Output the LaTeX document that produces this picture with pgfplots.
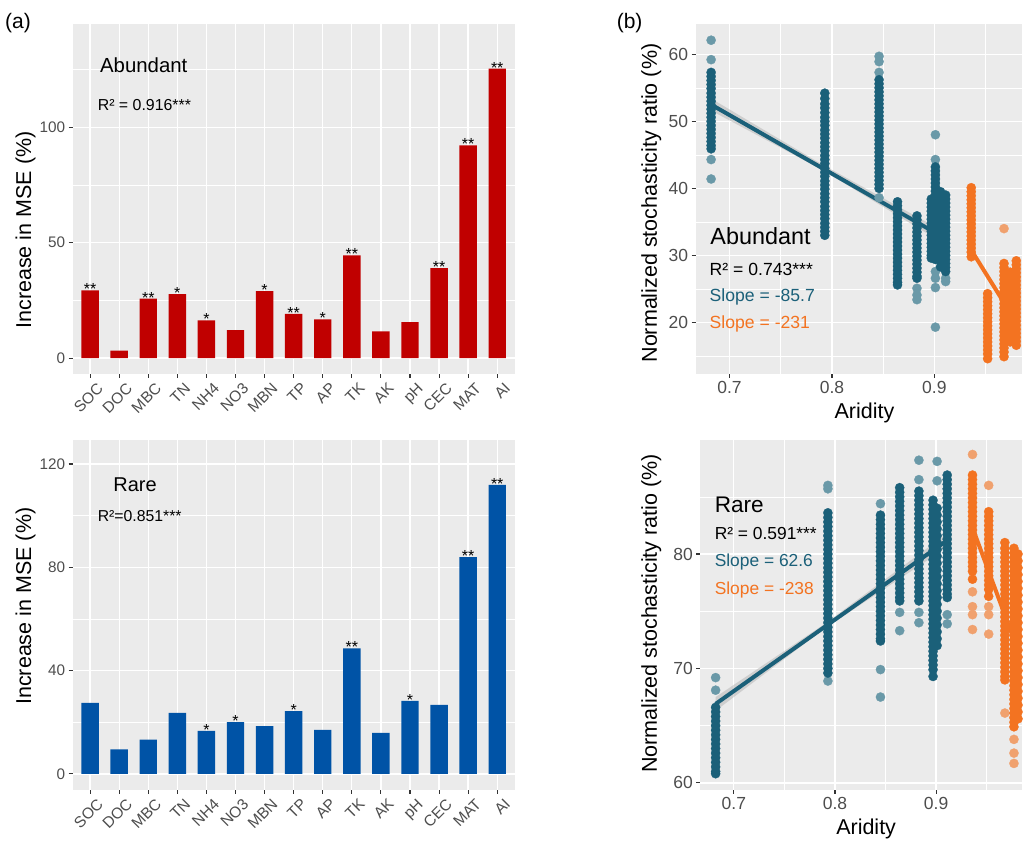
\documentclass[border=0pt]{standalone}
\usepackage{fontspec}
\setmainfont{Liberation Sans}
\usepackage{pgfplots}
\pgfplotsset{compat=1.18}
\definecolor{panelbg}{HTML}{EBEBEB}
\definecolor{tickgray}{HTML}{4D4D4D}
\definecolor{tickdark}{HTML}{333333}
\definecolor{barred}{HTML}{C00000}
\definecolor{barblue}{HTML}{0053A6}
\definecolor{myteal}{HTML}{1B6079}
\definecolor{lteal}{HTML}{6A99A8}
\definecolor{myorange}{HTML}{F37321}
\definecolor{lorange}{HTML}{F0A16E}
\pgfplotsset{
 gg/.style={
   scale only axis,
   axis background/.style={fill=panelbg},
   axis line style={draw=none},
   grid=both,
   major grid style={white, line width=1.3pt},
   minor grid style={white, line width=0.6pt},
   tick align=outside,
   major tick length=4pt,
   minor tick length=0pt,
   tick style={tickdark, line width=1.1pt},
   xtick pos=bottom, ytick pos=left,
   tick label style={text=tickgray},
   /pgf/number format/assume math mode=true,
   label style={font=\fontsize{21.5}{24}\selectfont},
   anchor=north west,
 },
 barax/.style={gg,
   width=442.3pt, height=350pt,
   xmin=-0.6, xmax=14.6,
   xtick={0,...,14},
   xticklabels={SOC,DOC,MBC,TN,NH4,NO3,MBN,TP,AP,TK,AK,pH,CEC,MAT,AI},
   xticklabel style={rotate=45, anchor=north east, xshift=5pt, yshift=-4pt, font=\fontsize{15.5}{15}\selectfont},
   yticklabel style={font=\fontsize{15.3}{15}\selectfont},
   ylabel={Increase in MSE (\%)},
 },
 stars/.style={only marks, mark=none, point meta=explicit symbolic, nodes near coords,
   every node near coord/.style={anchor=base, inner sep=0pt, yshift=-4.5pt, font=\fontsize{16}{16}\selectfont, text=black}},
 scax/.style={gg,
   xtick={0.7,0.8,0.9}, xticklabels={0.7,0.8,0.9}, minor xtick={0.75,0.85,0.95},
   tick label style={font=\fontsize{17.5}{18}\selectfont},
   xlabel={Aridity}, ylabel={Normalized stochasticity ratio (\%)},
 },
 pts/.style={only marks, color=#1, mark=*, mark size=4.6pt, mark options={solid, fill=#1, draw=#1, line width=0.3pt}},
 tpts/.style={pts=myteal},
 ltpts/.style={pts=lteal},
 opts/.style={pts=myorange},
 lopts/.style={pts=lorange},
}
\begin{document}
\begin{tikzpicture}
\path (0,0) rectangle (1023pt,-842pt);
% ---------------- (a) top: Abundant
\begin{axis}[barax, at={(72.7pt,-24pt)},
  ymin=-6.8, ymax=144.7, ytick={0,50,100}, minor ytick={25,75,125},
  ylabel style={at={(axis description cs:-0.1067,0.411)}, anchor=center}]
\addplot[ybar, bar width=0.6, fill=barred, draw=none] coordinates {
(0,29.3) (1,3.2) (2,25.7) (3,27.7) (4,16.3) (5,12.1) (6,29.0) (7,19.1)
(8,16.8) (9,44.5) (10,11.6) (11,15.6) (12,39.0) (13,92.1) (14,125.4)};
\addplot[stars] coordinates {
(0,29.3) [**] (2,25.7) [**] (3,27.7) [*] (4,16.3) [*] (6,29.0) [*] (7,19.1) [**]
(8,16.8) [*] (9,44.5) [**] (12,39.0) [**] (13,92.1) [**] (14,125.4) [**]};
\node[anchor=base west, inner sep=0pt, font=\fontsize{20.4}{22}\selectfont] at (rel axis cs:0.0617,0.861) {Abundant};
\node[anchor=base west, inner sep=0pt, font=\fontsize{15.9}{17}\selectfont] at (rel axis cs:0.0565,0.754) {R² = 0.916***};
\end{axis}
% ---------------- (a) bottom: Rare
\begin{axis}[barax, at={(72.7pt,-440pt)},
  ymin=-6.06, ymax=129.4, ytick={0,40,80,120}, minor ytick={20,60,100},
  ylabel style={at={(axis description cs:-0.1067,0.524)}, anchor=center}]
\addplot[ybar, bar width=0.6, fill=barblue, draw=none] coordinates {
(0,27.5) (1,9.5) (2,13.3) (3,23.6) (4,16.6) (5,20.0) (6,18.5) (7,24.3)
(8,17.0) (9,48.6) (10,15.9) (11,28.3) (12,26.7) (13,83.9) (14,111.9)};
\addplot[stars] coordinates {
(4,16.6) [*] (5,20.0) [*] (7,24.3) [*] (9,48.6) [**] (11,28.3) [*] (13,83.9) [**] (14,111.9) [**]};
\node[anchor=base west, inner sep=0pt, font=\fontsize{20}{22}\selectfont] at (rel axis cs:0.0918,0.852) {Rare};
\node[anchor=base west, inner sep=0pt, font=\fontsize{15.8}{17}\selectfont] at (rel axis cs:0.0565,0.767) {R²=0.851***};
\end{axis}
% ---------------- (b) top: Abundant scatter
\begin{axis}[scax, at={(696pt,-24pt)}, width=327pt, height=350pt,
  xmin=0.6668, xmax=0.9859, ymin=12.35, ymax=64.52,
  ytick={20,30,40,50,60}, minor ytick={15,25,35,45,55},
  ylabel style={at={(axis description cs:-0.1355,0.488)}, anchor=center},
  xlabel style={at={(axis description cs:0.517,-0.111)}, anchor=center}]
\addplot[ltpts] coordinates {
(0.682,62.1)(0.682,59.2)(0.682,44.3)(0.682,41.4)
(0.846,59.7)(0.846,58.9)(0.846,57.3)(0.846,38.6)
(0.883,25.1)(0.883,24.1)(0.883,23.4)
(0.901,48.0)(0.901,44.3)(0.901,27.6)(0.901,26.6)(0.901,25.2)(0.901,19.3)
(0.911,26.6)(0.911,26.1)};
\addplot[tpts] coordinates {
(0.682,57.3)(0.682,56.7)(0.682,56.1)(0.682,55.5)(0.682,54.9)(0.682,54.2)(0.682,53.6)(0.682,53.0)(0.682,52.4)(0.682,51.8)(0.682,51.2)(0.682,50.6)(0.682,50.0)(0.682,49.4)(0.682,48.8)(0.682,48.2)(0.682,47.6)(0.682,47.0)(0.682,46.4)(0.682,45.9)
(0.793,54.2)(0.793,53.4)(0.793,52.6)(0.793,52.0)(0.793,51.3)(0.793,50.6)(0.793,50.0)(0.793,49.4)(0.793,48.7)(0.793,48.1)(0.793,47.5)(0.793,46.8)(0.793,46.2)(0.793,45.6)(0.793,44.9)(0.793,44.3)(0.793,43.7)(0.793,43.0)(0.793,42.4)(0.793,41.8)(0.793,41.1)(0.793,40.5)(0.793,39.9)(0.793,39.2)(0.793,38.6)(0.793,38.0)(0.793,37.3)(0.793,36.7)(0.793,36.1)(0.793,35.5)(0.793,34.8)(0.793,34.2)(0.793,33.6)(0.793,33.0)
(0.846,56.2)(0.846,55.6)(0.846,55.0)(0.846,54.4)(0.846,53.8)(0.846,53.2)(0.846,52.6)(0.846,52.0)(0.846,51.4)(0.846,50.8)(0.846,50.2)(0.846,49.6)(0.846,49.0)(0.846,48.4)(0.846,47.8)(0.846,47.2)(0.846,46.6)(0.846,46.0)(0.846,45.4)(0.846,44.8)(0.846,44.2)(0.846,43.6)(0.846,43.0)(0.846,42.4)(0.846,41.8)(0.846,41.2)(0.846,40.6)(0.846,40.0)
(0.864,38.0)(0.864,37.4)(0.864,36.8)(0.864,36.2)(0.864,35.6)(0.864,35.0)(0.864,34.4)(0.864,33.8)(0.864,33.2)(0.864,32.6)(0.864,32.0)(0.864,31.4)(0.864,30.8)(0.864,30.2)(0.864,29.6)(0.864,29.0)(0.864,28.4)(0.864,27.8)(0.864,27.2)(0.864,26.6)(0.864,26.0)(0.864,25.6)
(0.883,35.9)(0.883,35.3)(0.883,34.7)(0.883,34.1)(0.883,33.5)(0.883,32.9)(0.883,32.3)(0.883,31.7)(0.883,31.1)(0.883,30.5)(0.883,29.9)(0.883,29.3)(0.883,28.7)(0.883,28.1)(0.883,27.5)(0.883,26.9)(0.883,26.6)
(0.897,38.4)(0.897,37.8)(0.897,37.2)(0.897,36.6)(0.897,36.0)(0.897,35.4)(0.897,34.8)(0.897,34.2)(0.897,33.6)(0.897,33.0)(0.897,32.4)(0.897,31.8)(0.897,31.2)(0.897,30.6)(0.897,30.0)(0.897,29.6)
(0.901,43.2)(0.901,42.6)(0.901,42.0)(0.901,41.4)(0.901,40.8)(0.901,40.2)(0.901,39.6)(0.901,39.0)(0.901,38.4)(0.901,37.8)(0.901,37.2)(0.901,36.6)(0.901,36.0)(0.901,35.4)(0.901,34.8)(0.901,34.2)(0.901,33.6)(0.901,33.0)(0.901,32.4)(0.901,31.8)(0.901,31.2)(0.901,30.6)(0.901,30.0)(0.901,29.4)
(0.906,39.5)(0.906,38.7)(0.906,37.9)(0.906,37.1)(0.906,36.3)(0.906,35.5)(0.906,34.7)(0.906,33.9)(0.906,33.1)(0.906,32.3)(0.906,31.5)(0.906,30.7)(0.906,29.9)(0.906,29.1)(0.906,28.3)
(0.911,39.0)(0.911,38.4)(0.911,37.8)(0.911,37.2)(0.911,36.6)(0.911,36.0)(0.911,35.4)(0.911,34.8)(0.911,34.2)(0.911,33.6)(0.911,33.0)(0.911,32.4)(0.911,31.8)(0.911,31.2)(0.911,30.6)(0.911,30.0)(0.911,29.4)(0.911,28.8)(0.911,28.2)(0.911,27.6)};
\addplot[lopts] coordinates {(0.968,34.0)};
\addplot[opts] coordinates {
(0.936,40.1)(0.936,39.5)(0.936,38.9)(0.936,38.3)(0.936,37.7)(0.936,37.1)(0.936,36.5)(0.936,35.9)(0.936,35.3)(0.936,34.7)(0.936,34.1)(0.936,33.5)(0.936,32.9)(0.936,32.3)(0.936,31.7)(0.936,31.1)(0.936,30.5)(0.936,29.8)
(0.952,24.3)(0.952,23.7)(0.952,23.1)(0.952,22.5)(0.952,21.9)(0.952,21.3)(0.952,20.7)(0.952,20.1)(0.952,19.5)(0.952,18.9)(0.952,18.3)(0.952,17.7)(0.952,17.1)(0.952,16.5)(0.952,15.9)(0.952,15.3)(0.952,14.6)
(0.968,28.8)(0.968,28.2)(0.968,27.6)(0.968,27.0)(0.968,26.4)(0.968,25.8)(0.968,25.2)(0.968,24.6)(0.968,24.0)(0.968,23.4)(0.968,22.8)(0.968,22.2)(0.968,21.6)(0.968,21.0)(0.968,20.4)(0.968,19.8)(0.968,19.2)(0.968,18.6)(0.968,18.0)(0.968,17.4)(0.968,16.8)(0.968,16.2)(0.968,15.6)(0.968,14.9)
(0.974,27.5)(0.974,26.7)(0.974,25.9)(0.974,25.1)(0.974,24.3)(0.974,23.5)(0.974,22.7)(0.974,21.9)(0.974,21.1)(0.974,20.3)(0.974,19.5)(0.974,18.7)(0.974,17.9)(0.974,17.1)
(0.980,29.2)(0.980,28.6)(0.980,28.0)(0.980,27.4)(0.980,26.8)(0.980,26.2)(0.980,25.6)(0.980,25.0)(0.980,24.4)(0.980,23.8)(0.980,23.2)(0.980,22.6)(0.980,22.0)(0.980,21.4)(0.980,20.8)(0.980,20.2)(0.980,19.6)(0.980,19.0)(0.980,18.4)(0.980,17.8)(0.980,17.2)(0.980,16.6)};
\addplot[draw=none, fill=gray!60, fill opacity=0.5] coordinates {
(0.682,53.4)(0.790,43.6)(0.911,33.4)(0.911,31.6)(0.790,42.8)(0.682,51.6)} -- cycle;
\addplot[myteal, line width=4pt] coordinates {(0.682,52.5)(0.911,32.5)};
\addplot[myorange, line width=4pt] coordinates {(0.936,30.8)(0.980,20.0)};
\node[anchor=base west, inner sep=0pt, font=\fontsize{23.4}{25}\selectfont] at (rel axis cs:0.045,0.369) {Abundant};
\node[anchor=base west, inner sep=0pt, font=\fontsize{17.6}{19}\selectfont] at (rel axis cs:0.0428,0.28) {R² = 0.743***};
\node[anchor=base west, inner sep=0pt, font=\fontsize{17.6}{19}\selectfont, text=myteal] at (rel axis cs:0.0428,0.2066) {Slope = -85.7};
\node[anchor=base west, inner sep=0pt, font=\fontsize{17.6}{19}\selectfont, text=myorange] at (rel axis cs:0.0428,0.1306) {Slope = -231};
\end{axis}
% ---------------- (b) bottom: Rare scatter
\begin{axis}[scax, at={(700.7pt,-440pt)}, width=322.3pt, height=350pt,
  xmin=0.6668, xmax=0.9853, ymin=59.42, ymax=89.99,
  ytick={60,70,80}, minor ytick={65,75,85},
  ylabel style={at={(axis description cs:-0.152,0.503)}, anchor=center},
  xlabel style={at={(axis description cs:0.515,-0.114)}, anchor=center}]
\addplot[ltpts] coordinates {
(0.682,69.2)(0.682,68.1)
(0.793,86.0)(0.793,85.7)(0.793,68.9)
(0.845,84.4)(0.845,69.9)(0.845,67.5)
(0.864,74.9)(0.864,73.3)
(0.883,88.2)(0.883,86.5)(0.883,74.9)(0.883,74.0)
(0.901,88.1)(0.901,86.4)
(0.911,74.7)(0.911,73.9)};
\addplot[tpts] coordinates {
(0.682,66.6)(0.682,66.2)(0.682,65.8)(0.682,65.4)(0.682,65.0)(0.682,64.6)(0.682,64.2)(0.682,63.8)(0.682,63.4)(0.682,63.0)(0.682,62.6)(0.682,62.2)(0.682,61.8)(0.682,61.4)(0.682,61.0)(0.682,60.8)
(0.793,83.6)(0.793,83.2)(0.793,82.8)(0.793,82.4)(0.793,82.0)(0.793,81.6)(0.793,81.2)(0.793,80.8)(0.793,80.4)(0.793,80.0)(0.793,79.6)(0.793,79.2)(0.793,78.8)(0.793,78.4)(0.793,78.0)(0.793,77.6)(0.793,77.2)(0.793,76.8)(0.793,76.4)(0.793,76.0)(0.793,75.6)(0.793,75.2)(0.793,74.8)(0.793,74.4)(0.793,74.0)(0.793,73.6)(0.793,73.2)(0.793,72.8)(0.793,72.4)(0.793,72.0)(0.793,71.6)(0.793,71.2)(0.793,70.8)(0.793,70.4)(0.793,70.0)(0.793,69.6)
(0.845,83.4)(0.845,83.0)(0.845,82.6)(0.845,82.2)(0.845,81.8)(0.845,81.4)(0.845,81.0)(0.845,80.6)(0.845,80.2)(0.845,79.8)(0.845,79.4)(0.845,79.0)(0.845,78.6)(0.845,78.2)(0.845,77.8)(0.845,77.4)(0.845,77.0)(0.845,76.6)(0.845,76.2)(0.845,75.8)(0.845,75.4)(0.845,75.0)(0.845,74.6)(0.845,74.2)(0.845,73.8)(0.845,73.4)(0.845,73.0)(0.845,72.6)(0.845,72.4)
(0.864,85.8)(0.864,85.4)(0.864,85.0)(0.864,84.6)(0.864,84.2)(0.864,83.8)(0.864,83.4)(0.864,83.0)(0.864,82.6)(0.864,82.2)(0.864,81.8)(0.864,81.4)(0.864,81.0)(0.864,80.6)(0.864,80.2)(0.864,79.8)(0.864,79.4)(0.864,79.0)(0.864,78.6)(0.864,78.2)(0.864,77.8)(0.864,77.4)(0.864,77.0)(0.864,76.6)(0.864,76.2)(0.864,75.9)
(0.883,85.5)(0.883,85.1)(0.883,84.7)(0.883,84.3)(0.883,83.9)(0.883,83.5)(0.883,83.1)(0.883,82.7)(0.883,82.3)(0.883,81.9)(0.883,81.5)(0.883,81.1)(0.883,80.7)(0.883,80.3)(0.883,79.9)(0.883,79.5)(0.883,79.1)(0.883,78.7)(0.883,78.3)(0.883,77.9)(0.883,77.5)(0.883,77.1)(0.883,76.7)(0.883,76.3)(0.883,75.9)
(0.897,84.7)(0.897,84.3)(0.897,83.9)(0.897,83.5)(0.897,83.1)(0.897,82.7)(0.897,82.3)(0.897,81.9)(0.897,81.5)(0.897,81.1)(0.897,80.7)(0.897,80.3)(0.897,79.9)(0.897,79.5)(0.897,79.1)(0.897,78.7)(0.897,78.3)(0.897,77.9)(0.897,77.5)(0.897,77.1)(0.897,76.7)(0.897,76.3)(0.897,75.9)(0.897,75.5)(0.897,75.1)(0.897,74.7)(0.897,74.3)(0.897,73.9)(0.897,73.5)(0.897,73.1)(0.897,72.7)(0.897,72.3)(0.897,71.9)(0.897,71.5)(0.897,71.1)(0.897,70.7)(0.897,70.3)(0.897,69.9)(0.897,69.3)
(0.901,84.0)(0.901,83.4)(0.901,82.8)(0.901,82.2)(0.901,81.6)(0.901,81.0)(0.901,80.4)(0.901,79.8)(0.901,79.2)(0.901,78.6)(0.901,78.0)(0.901,77.4)(0.901,76.8)(0.901,76.2)(0.901,75.6)(0.901,75.0)(0.901,74.4)(0.901,73.8)(0.901,73.2)(0.901,72.6)(0.901,72.0)
(0.911,86.9)(0.911,86.5)(0.911,86.1)(0.911,85.7)(0.911,85.3)(0.911,84.9)(0.911,84.5)(0.911,84.1)(0.911,83.7)(0.911,83.3)(0.911,82.9)(0.911,82.5)(0.911,82.1)(0.911,81.7)(0.911,81.3)(0.911,80.9)(0.911,80.5)(0.911,80.1)(0.911,79.7)(0.911,79.3)(0.911,78.9)(0.911,78.5)(0.911,78.1)(0.911,77.7)(0.911,77.3)(0.911,76.9)(0.911,76.5)(0.911,76.2)};
\addplot[lopts] coordinates {
(0.936,88.7)(0.936,76.7)(0.936,75.4)(0.936,74.7)(0.936,73.4)
(0.952,86.0)(0.952,75.4)(0.952,74.7)(0.952,73.0)
(0.968,66.1)
(0.977,63.8)(0.977,62.6)(0.977,61.7)};
\addplot[opts] coordinates {
(0.936,86.9)(0.936,86.5)(0.936,86.1)(0.936,85.7)(0.936,85.3)(0.936,84.9)(0.936,84.5)(0.936,84.1)(0.936,83.7)(0.936,83.3)(0.936,82.9)(0.936,82.5)(0.936,82.1)(0.936,81.7)(0.936,81.3)(0.936,80.9)(0.936,80.5)(0.936,80.1)(0.936,79.7)(0.936,79.3)(0.936,78.9)(0.936,78.5)(0.936,77.8)
(0.952,83.7)(0.952,83.3)(0.952,82.9)(0.952,82.5)(0.952,82.1)(0.952,81.7)(0.952,81.3)(0.952,80.9)(0.952,80.5)(0.952,80.1)(0.952,79.7)(0.952,79.3)(0.952,78.9)(0.952,78.5)(0.952,78.1)(0.952,77.7)(0.952,77.3)(0.952,76.9)(0.952,76.3)
(0.968,81.0)(0.968,80.5)(0.968,80.1)(0.968,79.7)(0.968,79.3)(0.968,78.9)(0.968,78.5)(0.968,78.1)(0.968,77.7)(0.968,77.3)(0.968,76.9)(0.968,76.5)(0.968,76.1)(0.968,75.7)(0.968,75.3)(0.968,74.9)(0.968,74.5)(0.968,74.1)(0.968,73.7)(0.968,73.3)(0.968,72.9)(0.968,72.5)(0.968,72.1)(0.968,71.7)(0.968,71.3)(0.968,70.9)(0.968,70.5)(0.968,70.1)(0.968,69.7)(0.968,69.3)(0.968,69.0)
(0.977,80.5)(0.977,80.1)(0.977,79.7)(0.977,79.3)(0.977,78.9)(0.977,78.5)(0.977,78.1)(0.977,77.7)(0.977,77.3)(0.977,76.9)(0.977,76.5)(0.977,76.1)(0.977,75.7)(0.977,75.3)(0.977,74.9)(0.977,74.5)(0.977,74.1)(0.977,73.7)(0.977,73.3)(0.977,72.9)(0.977,72.5)(0.977,72.1)(0.977,71.7)(0.977,71.3)(0.977,70.9)(0.977,70.5)(0.977,70.1)(0.977,69.7)(0.977,69.3)(0.977,68.9)(0.977,68.5)(0.977,68.1)(0.977,67.7)(0.977,67.3)(0.977,66.9)(0.977,66.5)(0.977,66.1)(0.977,65.7)(0.977,65.3)(0.977,64.9)
(0.981,80.0)(0.981,79.4)(0.981,78.8)(0.981,78.2)(0.981,77.6)(0.981,77.0)(0.981,76.4)(0.981,75.8)(0.981,75.2)(0.981,74.6)(0.981,74.0)(0.981,73.4)(0.981,72.8)(0.981,72.2)(0.981,71.6)(0.981,71.0)(0.981,70.4)(0.981,69.8)(0.981,69.2)(0.981,68.6)(0.981,68.0)(0.981,67.4)(0.981,66.8)(0.981,66.2)(0.981,65.6)};
\addplot[draw=none, fill=gray!60, fill opacity=0.5] coordinates {
(0.682,67.5)(0.790,73.9)(0.911,81.8)(0.911,80.6)(0.790,73.5)(0.682,66.3)} -- cycle;
\addplot[myteal, line width=4pt] coordinates {(0.682,66.9)(0.911,81.2)};
\addplot[myorange, line width=4pt] coordinates {(0.936,82.3)(0.980,71.8)};
\node[anchor=base west, inner sep=0pt, font=\fontsize{22.6}{25}\selectfont] at (rel axis cs:0.0444,0.792) {Rare};
\node[anchor=base west, inner sep=0pt, font=\fontsize{17.4}{19}\selectfont] at (rel axis cs:0.0444,0.714) {R² = 0.591***};
\node[anchor=base west, inner sep=0pt, font=\fontsize{17.4}{19}\selectfont, text=myteal] at (rel axis cs:0.0444,0.638) {Slope = 62.6};
\node[anchor=base west, inner sep=0pt, font=\fontsize{17.4}{19}\selectfont, text=myorange] at (rel axis cs:0.0444,0.557) {Slope = -238};
\end{axis}
\node[anchor=base west, inner sep=0pt, font=\fontsize{21}{22}\selectfont] at (5pt,-29pt) {(a)};
\node[anchor=base west, inner sep=0pt, font=\fontsize{21}{22}\selectfont] at (617pt,-29pt) {(b)};
\end{tikzpicture}
\end{document}
